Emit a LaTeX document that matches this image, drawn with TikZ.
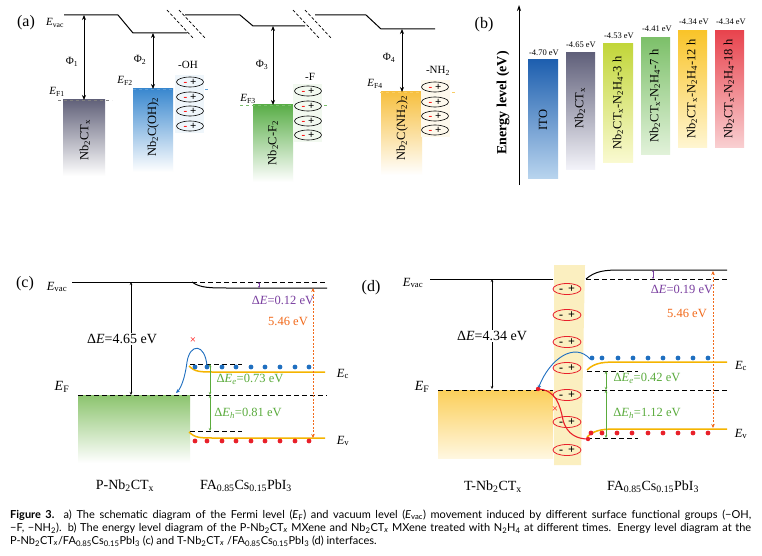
\documentclass[tikz,border=0pt]{standalone}
\usepackage{fontspec}
\setmainfont{Liberation Serif}
\newfontfamily\capfont{Lato}
\usetikzlibrary{arrows.meta,shapes.geometric}
\newcommand\sbs[1]{\textsubscript{#1}}
\definecolor{grayA}{HTML}{62627A}
\definecolor{blueA}{HTML}{3A88CF}
\definecolor{greenA}{HTML}{5AAE48}
\definecolor{yellA}{HTML}{F7C040}
\definecolor{bandO}{HTML}{F5B400}
\definecolor{dotB}{HTML}{1F6FC0}
\definecolor{dotR}{HTML}{E8202A}
\definecolor{txtG}{HTML}{5AAB3C}
\definecolor{txtO}{HTML}{F26A1B}
\definecolor{txtP}{HTML}{7A3FA0}
\definecolor{stripY}{HTML}{FBEFC0}
\definecolor{b1t}{HTML}{1E5FAF}\definecolor{b1b}{HTML}{B8D4EE}
\definecolor{b2t}{HTML}{60607A}\definecolor{b2b}{HTML}{F4F4FA}
\definecolor{b3t}{HTML}{C2D63A}\definecolor{b3b}{HTML}{FAFAD2}
\definecolor{b4t}{HTML}{7DC06A}\definecolor{b4b}{HTML}{E2F2DA}
\definecolor{b5t}{HTML}{F9C42A}\definecolor{b5b}{HTML}{FFF6D2}
\definecolor{b6t}{HTML}{E8444E}\definecolor{b6b}{HTML}{F9D0D2}
\definecolor{gboxt}{HTML}{8CC46E}
\definecolor{yboxt}{HTML}{FBCF5A}\definecolor{yboxb}{HTML}{FFF7E0}
\begin{document}
\begin{tikzpicture}[x=1pt,y=-1pt,
  plabel/.style={inner sep=0pt,font=\fontsize{16}{18}\selectfont},
  lbl/.style={inner sep=0pt,font=\fontsize{11}{13}\selectfont},
  big/.style={inner sep=0pt,font=\fontsize{14}{16}\selectfont},
  mid/.style={inner sep=0pt,font=\fontsize{12.5}{14}\selectfont},
  boxtxt/.style={inner sep=0pt,rotate=90,font=\fontsize{12.5}{14}\selectfont},
  bartxt/.style={inner sep=0pt,rotate=90,font=\fontsize{12.5}{14}\selectfont},
  evtxt/.style={inner sep=0pt,font=\fontsize{8.5}{10}\selectfont},
  vacline/.style={line width=1pt},
  brk/.style={line width=0.7pt,dash pattern=on 3pt off 2pt},
  phiarr/.style={{Stealth[length=5pt,width=4pt]}-{Stealth[length=5pt,width=4pt]},line width=0.8pt},
  dearr/.style={{Stealth[length=3pt,width=2.5pt]}-{Stealth[length=3pt,width=2.5pt]},line width=0.5pt},
  garr/.style={{Stealth[length=3pt,width=2.5pt]}-{Stealth[length=3pt,width=2.5pt]},line width=0.7pt,txtG},
  oarr/.style={{Stealth[length=4pt,width=3.5pt]}-{Stealth[length=4pt,width=3.5pt]},line width=1pt,txtO,dash pattern=on 2pt off 1.5pt},
  parr/.style={{Stealth[length=2pt,width=2pt]}-{Stealth[length=2pt,width=2pt]},line width=0.6pt,txtP},
  bdash/.style={line width=1pt,dash pattern=on 5pt off 3pt},
  band/.style={line width=1.5pt,bandO},
  dip/.style={ellipse,draw,line width=0.6pt,minimum width=27pt,minimum height=10pt,inner sep=0pt,font=\fontsize{11}{12}\selectfont},
  dipd/.style={ellipse,draw=dotR,line width=0.8pt,minimum width=28pt,minimum height=11pt,inner sep=0pt,font=\fontsize{12}{12}\selectfont},
]
\useasboundingbox (0,0) rectangle (762,556);
\fill[white] (0,0) rectangle (762,556);

%%%%%%%%%%%%%%%% panel (a)
\node[plabel] (la) at (26,23) {(a)};
\node[lbl] (evacA) at (55,23) {\textit{E}\sbs{vac}};
\draw[vacline] (64,15) -- (118,15) -- (133,33) -- (187,33);
\draw[vacline] (185,15) -- (240,15) -- (253,26) -- (305,26);
\draw[vacline] (315,15) -- (366,15) -- (381,29) -- (435,29);
\draw[brk] (167,10) -- (193,38); \draw[brk] (179,10) -- (205,38);
\draw[brk] (293,10) -- (319,38); \draw[brk] (305,10) -- (331,38);

% boxes
\shade[top color=grayA,bottom color=white] (63,100) rectangle (105,176);
\shade[top color=blueA,bottom color=white] (133,89) rectangle (173,172);
\shade[top color=greenA,bottom color=white] (253,105) rectangle (293,182);
\shade[top color=yellA,bottom color=white] (381,92) rectangle (422,175);
\draw[gray,dashed,line width=0.7pt] (58,100) -- (112,100);
\draw[blueA!80,dashed,line width=0.7pt] (133,89) -- (208,89);
\draw[greenA!80,dashed,line width=0.7pt] (240,105) -- (328,105);
\draw[yellA!80,dashed,line width=0.7pt] (380,92) -- (455,92);
\node[boxtxt] (b1) at (85,140) {Nb\sbs{2}CT\sbs{x}};
\node[boxtxt] (b2) at (153,127) {Nb\sbs{2}C(OH)\sbs{2}};
\node[boxtxt] (b3) at (273,143) {Nb\sbs{2}C-F\sbs{2}};
\node[boxtxt] (b4) at (402,128) {Nb\sbs{2}C(NH\sbs{2})\sbs{2}};

% phi arrows
\coordinate (p1t) at (84,15); \coordinate (p1b) at (84,100);
\coordinate (p2t) at (153,33); \coordinate (p2b) at (153,89);
\coordinate (p3t) at (273,26); \coordinate (p3b) at (273,105);
\coordinate (p4t) at (402,29); \coordinate (p4b) at (402,92);
\draw[phiarr] (p1t) -- (p1b);
\draw[phiarr] (p2t) -- (p2b);
\draw[phiarr] (p3t) -- (p3b);
\draw[phiarr] (p4t) -- (p4b);
\node[lbl] (f1) at (72,62) {Φ\sbs{1}};
\node[lbl] (f2) at (140,60) {Φ\sbs{2}};
\node[lbl] (f3) at (262,65) {Φ\sbs{3}};
\node[lbl] (f4) at (389,58) {Φ\sbs{4}};
\node[lbl] (ef1) at (57,92) {\textit{E}\sbs{F1}};
\node[lbl] (ef2) at (125,81) {\textit{E}\sbs{F2}};
\node[lbl] (ef3) at (248,99) {\textit{E}\sbs{F3}};
\node[lbl] (ef4) at (375,84) {\textit{E}\sbs{F4}};

% dipoles (a)
\fill[blueA!8] (175,75) rectangle (204,133);
\fill[greenA!8] (293,84) rectangle (322,142);
\fill[yellA!10] (421,80) rectangle (450,137);
\node[lbl] (oh) at (188,65) {-OH};
\node[lbl] (ff) at (310,77) {-F};
\node[lbl] (nh) at (438,71) {-NH\sbs{2}};
\foreach \y [count=\i] in {82,97,111,126} {
  \node[dip] (da\i) at (190,\y) {\textcolor{red}{\textbf{-}}\hspace{3pt}\textbf{+}};}
\foreach \y [count=\i] in {91,106,121,135} {
  \node[dip] (db\i) at (308,\y) {\textcolor{red}{\textbf{-}}\hspace{3pt}\textbf{+}};}
\foreach \y [count=\i] in {87,102,116,130} {
  \node[dip] (dc\i) at (435,\y) {\textcolor{red}{\textbf{-}}\hspace{3pt}\textbf{+}};}

%%%%%%%%%%%%%%%% panel (b)
\node[plabel] (lb) at (484,25) {(b)};
\coordinate (axb) at (519,185); \coordinate (axt) at (519,5);
\draw[-{Stealth[length=6pt,width=4pt]},line width=0.8pt] (axb) -- (axt);
\node[inner sep=0pt,rotate=90,font=\bfseries\fontsize{14}{16}\selectfont] (ylab) at (503,103) {Energy level (eV)};
\shade[top color=b1t,bottom color=b1b] (528,60) rectangle (558,178);
\shade[top color=b2t,bottom color=b2b] (566,53) rectangle (595,170);
\shade[top color=b3t,bottom color=b3b] (603,44) rectangle (633,163);
\shade[top color=b4t,bottom color=b4b] (641,38) rectangle (670,155);
\shade[top color=b5t,bottom color=b5b] (678,31) rectangle (707,148);
\shade[top color=b6t,bottom color=b6b] (715,31) rectangle (744,148);
\node[bartxt] (bt1) at (543,120) {ITO};
\node[bartxt] (bt2) at (580,108) {Nb\sbs{2}CT\sbs{x}};
\node[bartxt] (bt3) at (618,103) {Nb\sbs{2}CT\sbs{x}-N\sbs{2}H\sbs{4}-3 h};
\node[bartxt] (bt4) at (655,96) {Nb\sbs{2}CT\sbs{x}-N\sbs{2}H\sbs{4}-7 h};
\node[bartxt] (bt5) at (692,89) {Nb\sbs{2}CT\sbs{x}-N\sbs{2}H\sbs{4}-12 h};
\node[bartxt] (bt6) at (729,89) {Nb\sbs{2}CT\sbs{x}-N\sbs{2}H\sbs{4}-18 h};
\node[evtxt] (e1) at (544,53) {-4.70 eV};
\node[evtxt] (e2) at (581,45) {-4.65 eV};
\node[evtxt] (e3) at (619,36) {-4.53 eV};
\node[evtxt] (e4) at (657,29) {-4.41 eV};
\node[evtxt] (e5) at (694,22) {-4.34 eV};
\node[evtxt] (e6) at (731,22) {-4.34 eV};

%%%%%%%%%%%%%%%% panel (c)
\node[plabel] (lc) at (25,284) {(c)};
\node[mid] (evacC) at (57,287) {\textit{E}\sbs{vac}};
\coordinate (cvl) at (72,282); \coordinate (cvm) at (192,282); \coordinate (cvr) at (327,282);
\draw[vacline] (cvl) -- (cvm);
\draw[vacline] (cvm) .. controls (200,288) and (210,288) .. (230,288) -- (327,288);
\draw[bdash] (cvm) -- (cvr);
\shade[top color=gboxt,bottom color=white] (78,395) rectangle (190,463);
\draw[bdash] (78,395) -- (327,395);
\coordinate (cdt) at (131,282); \coordinate (cdb) at (131,395);
\draw[dearr] (cdt) -- (cdb);
\node[big,fill=white,inner sep=1.5pt] (dEc) at (122,339) {Δ\textit{E}=4.65 eV};
\node[big] (efC) at (62,387) {\textit{E}\sbs{F}};
% bands
\draw[bdash] (190,364) -- (242,364);
\draw[bdash] (190,431) -- (242,431);
\draw[band] (189,366) .. controls (195,372) and (200,372) .. (215,372) -- (325,372);
\draw[band] (189,432) .. controls (195,438) and (200,438) .. (215,438) -- (325,438);
\foreach \x in {195,207,222,236,251,265,280,295,309} {
  \fill[dotB] (\x,367) circle (2.4);
  \fill[dotR] (\x,441) circle (2.4);}
\coordinate (cga) at (210,364); \coordinate (cgb) at (210,395); \coordinate (cgc) at (210,431);
\draw[garr] (cga) -- (cgb);
\draw[garr] (cgb) -- (cgc);
\node[mid,txtG] (dEe) at (250,379) {Δ\textit{E}\sbs{\textit{e}}=0.73 eV};
\node[mid,txtG] (dEh) at (248,413) {Δ\textit{E}\sbs{\textit{h}}=0.81 eV};
\coordinate (cpa) at (259,282); \coordinate (cpb) at (259,288);
\draw[parr] (cpa) -- (cpb);
\node[mid,txtP] (dE12) at (283,300) {Δ\textit{E}=0.12 eV};
\coordinate (coa) at (313,288); \coordinate (cob) at (313,438);
\draw[oarr] (coa) -- (cob);
\node[mid,txtO] (c546) at (288,321) {5.46 eV};
\coordinate (cbs) at (207,366); \coordinate (cbe) at (176,393);
\draw[dotB,line width=0.9pt,-{Stealth[length=4pt,width=3.5pt]}] (cbs) .. controls (205,343) and (190,343) .. (187,362) .. controls (185,378) and (181,388) .. (cbe);
\node[inner sep=0pt,red,font=\fontsize{11}{12}\selectfont] (xc) at (193,341) {×};
\node[mid] (Ecc) at (343,374) {\textit{E}\sbs{c}};
\node[mid] (Evc) at (343,441) {\textit{E}\sbs{v}};
\node[big] (pnb) at (125,486) {P-Nb\sbs{2}CT\sbs{x}};
\node[big] (fac) at (246,486) {FA\sbs{0.85}Cs\sbs{0.15}PbI\sbs{3}};

%%%%%%%%%%%%%%%% panel (d)
\node[plabel] (ld) at (371,288) {(d)};
\node[mid] (evacD) at (413,283) {\textit{E}\sbs{vac}};
\fill[stripY] (554,265) -- (585,265) -- (581,465) -- (554,465) -- cycle;
\coordinate (dvl) at (430,279); \coordinate (dvm) at (553,279);
\draw[vacline] (dvl) -- (dvm);
\shade[top color=yboxt,bottom color=yboxb] (438,390) rectangle (553,458);
\draw[bdash] (438,390) -- (553,390);
\draw[bdash] (586,390) -- (727,390);
\coordinate (ddt) at (492,279); \coordinate (ddb) at (492,389);
\draw[dearr] (ddt) -- (ddb);
\node[big,fill=white,inner sep=1.5pt] (dEd) at (492,336) {Δ\textit{E}=4.34 eV};
\node[big] (efD) at (422,387) {\textit{E}\sbs{F}};
% right vacuum
\draw[bdash] (586,279) -- (727,279);
\draw[vacline] (586,279) .. controls (595,271) and (605,270) .. (620,270) -- (727,270);
\coordinate (dpa) at (653,270); \coordinate (dpb) at (653,279);
\draw[parr] (dpa) -- (dpb);
\node[mid,txtP] (dE19) at (682,289) {Δ\textit{E}=0.19 eV};
\coordinate (doa) at (713,271); \coordinate (dob) at (713,428);
\draw[oarr] (doa) -- (dob);
\node[mid,txtO] (d546) at (687,313) {5.46 eV};
% bands
\draw[bdash] (587,371) -- (638,371);
\draw[bdash] (587,438) -- (638,438);
\draw[band] (587,370) .. controls (595,362) and (605,362) .. (620,362) -- (727,362);
\draw[band] (587,437) .. controls (595,429) and (605,429) .. (620,429) -- (727,429);
\foreach \x in {592,602,618,633,648,663,678,693,708} {
  \fill[dotB] (\x,358) circle (2.4);}
\foreach \x in {591,602,617,632,648,663,678,693,708} {
  \fill[dotR] (\x,433) circle (2.4);}
\coordinate (dga) at (606,371); \coordinate (dgb) at (606,390); \coordinate (dgc) at (606,438);
\draw[garr] (dga) -- (dgb);
\draw[garr] (dgb) -- (dgc);
\node[mid,txtG] (dEe2) at (647,378) {Δ\textit{E}\sbs{\textit{e}}=0.42 eV};
\node[mid,txtG] (dEh2) at (647,413) {Δ\textit{E}\sbs{\textit{h}}=1.12 eV};
% dipoles
\foreach \y [count=\i] in {289,315,342,368,395,422,450} {
  \node[dipd] (dd\i) at (567,\y) {\textbf{-}\hspace{5pt}\textbf{+}};}
% curves
\coordinate (dbs) at (590,359); \coordinate (dbe) at (538,389);
\draw[dotB,line width=0.9pt,-{Stealth[length=4pt,width=3.5pt]}] (dbs) .. controls (575,342) and (550,358) .. (dbe);
\coordinate (drs) at (538,389); \coordinate (dre) at (588,439);
\draw[dotR,line width=1.1pt] (drs) .. controls (556,390) and (560,405) .. (563,420) .. controls (567,435) and (578,439) .. (dre);
\fill[dotR] (drs) circle (2.2);
\fill[dotR] (dre) circle (2.2);
\node[inner sep=0pt,red,font=\fontsize{11}{12}\selectfont] (xd) at (555,410) {×};
\node[mid] (Ecd) at (741,366) {\textit{E}\sbs{c}};
\node[mid] (Evd) at (741,434) {\textit{E}\sbs{v}};
\node[big] (tnb) at (493,487) {T-Nb\sbs{2}CT\sbs{x}};
\node[big] (fad) at (653,487) {FA\sbs{0.85}Cs\sbs{0.15}PbI\sbs{3}};

%%%%%%%%%%%%%%%% caption
\begin{scope}[every node/.style={anchor=west,inner sep=0pt,font=\capfont\fontsize{11}{12}\selectfont}]
\node (cap1) at (10,515) {\makebox[741pt][s]{\textbf{Figure 3.}\ \ a) The schematic diagram of the Fermi level (\textit{E}\sbs{F}) and vacuum level (\textit{E}\sbs{vac}) movement induced by different surface functional groups (−OH,}};
\node (cap2) at (10,528) {\makebox[741pt][s]{−F, −NH\sbs{2}). b) The energy level diagram of the P-Nb\sbs{2}CT\sbs{\textit{x}} MXene and Nb\sbs{2}CT\sbs{\textit{x}} MXene treated with N\sbs{2}H\sbs{4} at different times. Energy level diagram at the}};
\node (cap3) at (10,541) {P-Nb\sbs{2}CT\sbs{\textit{x}}/FA\sbs{0.85}Cs\sbs{0.15}PbI\sbs{3} (c) and T-Nb\sbs{2}CT\sbs{\textit{x}} /FA\sbs{0.85}Cs\sbs{0.15}PbI\sbs{3} (d) interfaces.};
\end{scope}
\end{tikzpicture}
\end{document}
